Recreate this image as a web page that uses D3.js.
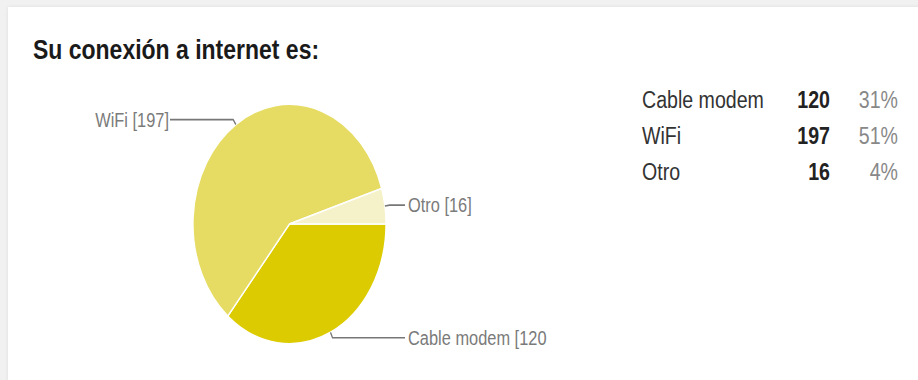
<!DOCTYPE html>
<html>
<head>
<meta charset="utf-8">
<script src="https://cdn.jsdelivr.net/npm/d3@7"></script>
<style>
  html, body { margin: 0; padding: 0; }
  body { width: 918px; height: 380px; background: #f1f1f1; overflow: hidden; position: relative; }
  #card { position: absolute; left: 8px; top: 7px; width: 920px; height: 380px; background: #fff;
          box-shadow: 0 0 4px rgba(0,0,0,0.08); }
  svg { position: absolute; left: 0; top: 0; }
  text { font-family: "Liberation Sans", Arial, sans-serif; }
</style>
</head>
<body>
<div id="card"></div>
<script>
const categories = ["Cable modem", "WiFi", "Otro"];
const counts = [120, 197, 16];
const percents = ["31%", "51%", "4%"];
const pieLabels = ["Cable modem [120", "WiFi [197]", "Otro [16]"];
const colors = ["#dccb00", "#e6dc64", "#f5f1c9"];

const width = 918, height = 380;
const sy = 1.24; // picture is stretched vertically
const cx = 289.5, cy = 224 / sy, r = 96.5;

const svg = d3.select("body").append("svg")
    .attr("width", width)
    .attr("height", height);

const g = svg.append("g").attr("transform", `scale(1,${sy})`);

// title
g.append("text")
    .attr("x", 33)
    .attr("y", 59.5 / sy)
    .attr("font-size", 23)
    .attr("font-weight", "bold")
    .attr("fill", "#1a1a1a")
    .text("Su conexión a internet es:");

// pie
const data = categories.map((c, i) => ({ name: c, value: counts[i], label: pieLabels[i], color: colors[i] }));

const pie = d3.pie()
    .sort(null)
    .value(d => d.value)
    .startAngle(Math.PI / 2)
    .endAngle(Math.PI / 2 + 2 * Math.PI);

const arcs = pie(data);
const arc = d3.arc().innerRadius(0).outerRadius(r);

const pieG = g.append("g").attr("transform", `translate(${cx},${cy})`);

pieG.selectAll("path")
    .data(arcs)
    .enter()
    .append("path")
    .attr("d", arc)
    .attr("fill", d => d.data.color)
    .attr("stroke", "#fff")
    .attr("stroke-width", 1.3);

// leader lines + labels
const pt = (a, rr) => [Math.sin(a) * rr, -Math.cos(a) * rr];

arcs.forEach(d => {
    const mid = (d.startAngle + d.endAngle) / 2;
    const edge = pt(mid, r);
    const elbow = pt(mid, r * 1.05);
    const right = edge[0] > 0;
    const lx = right ? r + 19 : -(r + 23);
    pieG.append("polyline")
        .attr("points", [edge, elbow, [lx, elbow[1]]].map(p => p.join(",")).join(" "))
        .attr("fill", "none")
        .attr("stroke", "#777")
        .attr("stroke-width", 1.3);
    pieG.append("text")
        .attr("x", right ? lx + 3 : lx - 1)
        .attr("y", elbow[1])
        .attr("dy", "0.36em")
        .attr("text-anchor", right ? "start" : "end")
        .attr("font-size", 16.4)
        .attr("fill", "#7a7a7a")
        .text(d.data.label);
});

// legend table
const rowY = d3.scalePoint().domain(categories).range([108 / sy, 180 / sy]);

const rows = g.selectAll(".row")
    .data(data)
    .enter()
    .append("g")
    .attr("class", "row")
    .attr("transform", d => `translate(0,${rowY(d.name)})`);

rows.append("text")
    .attr("x", 642)
    .attr("font-size", 19.6)
    .attr("fill", "#333")
    .text(d => d.name);

rows.append("text")
    .attr("x", 830)
    .attr("text-anchor", "end")
    .attr("font-size", 19.6)
    .attr("font-weight", "bold")
    .attr("fill", "#222")
    .text(d => d.value);

rows.append("text")
    .attr("x", 898)
    .attr("text-anchor", "end")
    .attr("font-size", 19.6)
    .attr("fill", "#888")
    .text((d, i) => percents[i]);
</script>
</body>
</html>
